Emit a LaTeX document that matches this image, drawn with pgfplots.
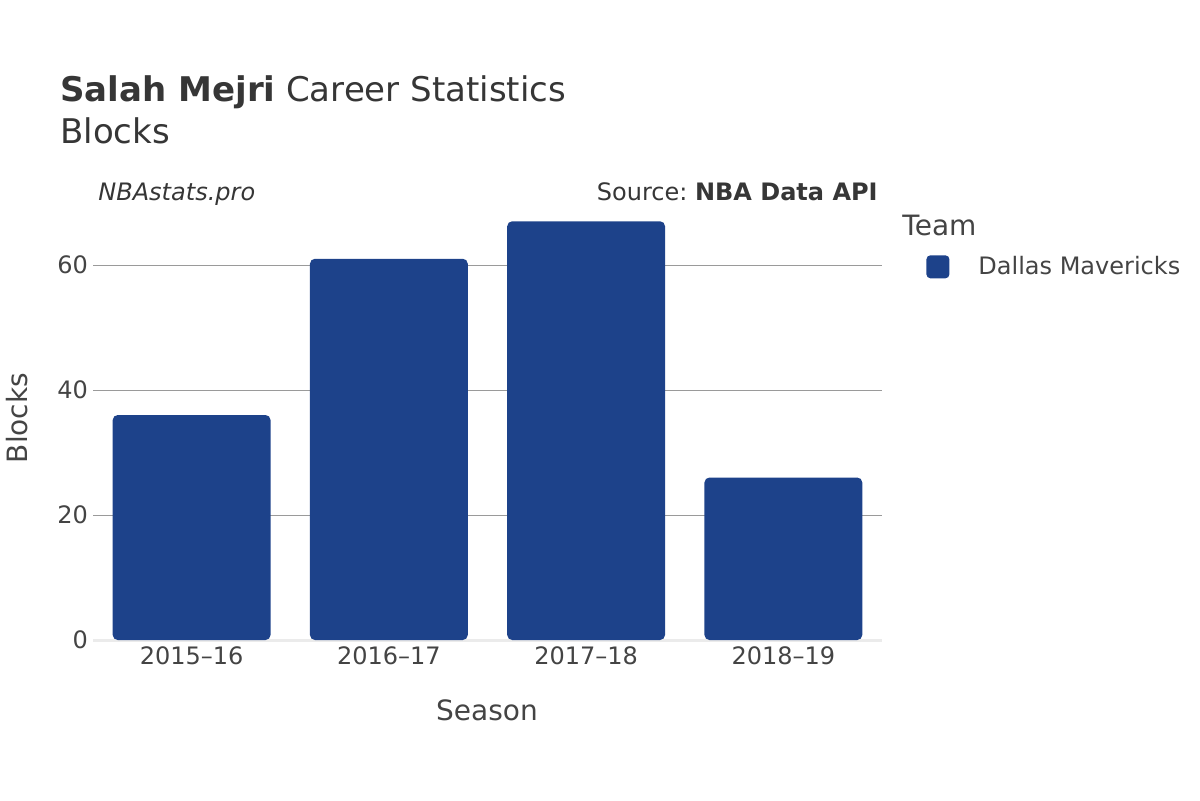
\documentclass[border=0pt]{standalone}
\usepackage{fontspec}
\setmainfont{DejaVu Sans}
\usepackage{pgfplots}
\pgfplotsset{compat=1.18}
\definecolor{txt}{HTML}{444444}
\definecolor{ttl}{HTML}{363636}
\definecolor{barblue}{HTML}{1D428A}
\definecolor{gridc}{HTML}{9A9A9A}
\definecolor{zeroc}{HTML}{EBEBEB}

\begin{document}
\begin{tikzpicture}
% page frame: 1200x800 px at 0.5pt per px
\path (0pt,0pt) rectangle (600pt,-400pt);
\begin{axis}[
  at={(46.5pt,-320pt)}, anchor=south west,
  scale only axis, width=394.5pt, height=218.75pt,
  xmin=-0.5, xmax=3.5, ymin=0, ymax=70,
  xtick={0,1,2,3},
  xticklabels={2015–16,2016–17,2017–18,2018–19},
  ytick={20,40,60},
  extra y ticks={0},
  extra y tick style={grid style={draw=zeroc, line width=1.5pt}},
  ymajorgrids, grid style={draw=gridc, line width=0.5pt},
  axis line style={draw=none},
  major tick length=0pt,
  tick label style={font=\fontsize{12}{14}\selectfont, text=txt},
  /pgf/number format/assume math mode=true,
  yticklabel style={xshift=1pt},
  legend style={at={(1.0558,0.853)}, anchor=west, draw=none, fill=none,
    inner sep=0pt, font=\fontsize{12}{14}\selectfont, text=txt,
    nodes={inner sep=0pt}},
  legend image code/.code={\fill[barblue, rounded corners=2pt] (0pt,-5.75pt) rectangle (11.5pt,5.75pt);
    \path[draw=none, fill=none] (11.5pt,0pt) rectangle (26pt,0.1pt);},
]
\addplot[ybar, bar width=0.8, fill=barblue, draw=none, rounded corners=2.5pt]
  coordinates {(0,36) (1,61) (2,67) (3,26)};
\addlegendentry{Dallas Mavericks}
\end{axis}
\begin{scope}[x=0.5pt, y=-0.5pt, text=ttl]
\node[anchor=base west, inner sep=0pt, font=\fontsize{17}{20}\selectfont] at (60,101)
  {\textbf{Salah Mejri} Career Statistics};
\node[anchor=base west, inner sep=0pt, font=\fontsize{17}{20}\selectfont] at (60,143) {Blocks};
\node[anchor=base west, inner sep=0pt, font=\fontsize{12}{14}\selectfont\itshape] at (98,200) {NBAstats.pro};
\node[anchor=base east, inner sep=0pt, font=\fontsize{12}{14}\selectfont] at (878,200) {Source:~\textbf{NBA Data API}};
\node[anchor=base west, inner sep=0pt, font=\fontsize{14}{16}\selectfont, text=txt] at (902,235) {Team};
\node[anchor=base, inner sep=0pt, font=\fontsize{14}{16}\selectfont, text=txt] at (487,720) {Season};
\node[anchor=base, rotate=90, inner sep=0pt, font=\fontsize{14}{16}\selectfont, text=txt] at (27,418) {Blocks};
\end{scope}
\end{tikzpicture}
\end{document}
